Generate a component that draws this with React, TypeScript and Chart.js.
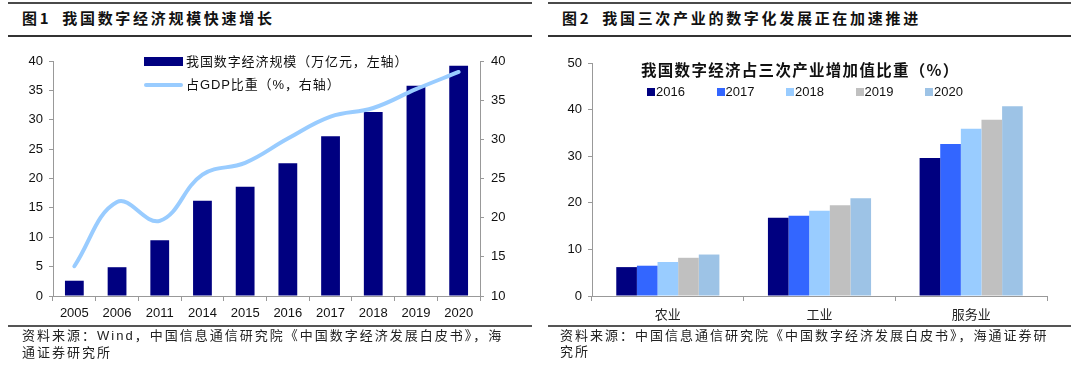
import React, { useEffect, useRef } from "react";
import { Chart, registerables } from "chart.js";

Chart.register(...registerables);

// ---------- Data ----------
const years1 = ["2005", "2006", "2011", "2014", "2015", "2016", "2017", "2018", "2019", "2020"];
const scaleValues = [2.6, 4.9, 9.5, 16.2, 18.6, 22.6, 27.2, 31.3, 35.8, 39.2];
const gdpShare = [13.8, 22.0, 19.6, 25.5, 27.0, 30.1, 32.9, 34.0, 36.4, 38.6];
const leftTicks = [0, 40, 5];
const rightTicks = [10, 40, 5];

const industries = ["农业", "工业", "服务业"];
const years2 = ["2016", "2017", "2018", "2019", "2020"];
const agri = [6.2, 6.5, 7.3, 8.2, 8.9];
const indus = [16.8, 17.2, 18.3, 19.5, 21.0];
const serv = [29.6, 32.6, 35.9, 37.8, 40.7];
const colors2 = ["#000080", "#3366FF", "#99CCFF", "#C0C0C0", "#9DC3E6"];

const FONT = '"Liberation Sans", Arial, "Noto Sans CJK SC", sans-serif';
const CJK = '"Noto Sans CJK SC", "Liberation Sans", sans-serif';

function Chart1() {
  const ref = useRef<HTMLCanvasElement>(null);
  useEffect(() => {
    const c = new Chart(ref.current!, {
      type: "bar",
      data: {
        labels: years1,
        datasets: [
          {
            type: "line",
            label: "占GDP比重（%，右轴）",
            data: gdpShare,
            yAxisID: "y1",
            borderColor: "#99CCFF",
            borderWidth: 4,
            pointRadius: 0,
            tension: 0.4,
            borderCapStyle: "round",
            order: 0,
          } as any,
          {
            type: "bar",
            label: "我国数字经济规模（万亿元，左轴）",
            data: scaleValues,
            yAxisID: "y",
            backgroundColor: "#000080",
            barPercentage: 0.44,
            categoryPercentage: 1,
            order: 1,
          },
        ],
      },
      options: {
        responsive: false,
        animation: false,
        devicePixelRatio: 1,
        layout: { padding: { top: 25, left: 0, right: 0, bottom: 0 } },
        plugins: { legend: { display: false }, tooltip: { enabled: false } },
        scales: {
          x: {
            offset: true,
            grid: { display: true, drawOnChartArea: false, offset: true, tickLength: 5, color: "#999" },
            border: { color: "#999", width: 1 },
            ticks: { color: "#111", font: { family: FONT, size: 13 }, padding: 5, maxRotation: 0 },
            afterFit: (s: any) => { s.height = 30; },
          },
          y: {
            position: "left",
            min: leftTicks[0],
            max: leftTicks[1],
            ticks: { stepSize: leftTicks[2], color: "#111", font: { family: FONT, size: 13 }, padding: 6 },
            grid: { drawOnChartArea: false, tickLength: 4, color: "#999" },
            border: { color: "#999", width: 1 },
            afterFit: (s: any) => { s.width = 53; },
          },
          y1: {
            position: "right",
            min: rightTicks[0],
            max: rightTicks[1],
            ticks: { stepSize: rightTicks[2], color: "#111", font: { family: FONT, size: 13 }, padding: 7 },
            grid: { drawOnChartArea: false, tickLength: 4, color: "#999" },
            border: { color: "#999", width: 1 },
            afterFit: (s: any) => { s.width = 60; },
          },
        },
      },
    });
    return () => c.destroy();
  }, []);
  return <canvas ref={ref} width={540} height={290} style={{ position: "absolute", left: 0, top: 36 }} />;
}

function Chart2() {
  const ref = useRef<HTMLCanvasElement>(null);
  useEffect(() => {
    const c = new Chart(ref.current!, {
      type: "bar",
      data: {
        labels: industries,
        datasets: years2.map((y, i) => ({
          label: y,
          data: [agri[i], indus[i], serv[i]],
          backgroundColor: colors2[i],
          barPercentage: 1,
          categoryPercentage: 0.68,
        })),
      },
      options: {
        responsive: false,
        animation: false,
        devicePixelRatio: 1,
        layout: { padding: { top: 27, left: 0, right: 33, bottom: 0 } },
        plugins: { legend: { display: false }, tooltip: { enabled: false } },
        scales: {
          x: {
            offset: true,
            grid: { display: true, drawOnChartArea: false, offset: true, tickLength: 5, color: "#999" },
            border: { color: "#999", width: 1 },
            ticks: { color: "#222", font: { family: CJK, size: 13 }, padding: 5, maxRotation: 0 },
            afterFit: (s: any) => { s.height = 30; },
          },
          y: {
            min: 0,
            max: 50,
            ticks: { stepSize: 10, color: "#111", font: { family: FONT, size: 13 }, padding: 6 },
            grid: { drawOnChartArea: false, tickLength: 4, color: "#999" },
            border: { color: "#999", width: 1 },
            afterFit: (s: any) => { s.width = 52; },
          },
        },
      },
    });
    return () => c.destroy();
  }, []);
  return <canvas ref={ref} width={540} height={290} style={{ position: "absolute", left: 0, top: 36 }} />;
}

const ruleTop: React.CSSProperties = { position: "absolute", top: 2, height: 2, background: "#4a4a4a" };
const ruleMid: React.CSSProperties = { position: "absolute", top: 35, height: 2, background: "#333" };
const ruleBot: React.CSSProperties = { position: "absolute", top: 325, height: 2, background: "#555" };
const titleStyle: React.CSSProperties = {
  position: "absolute",
  top: 8,
  fontFamily: CJK,
  fontWeight: 700,
  fontSize: 15,
  letterSpacing: 2.7,
  color: "#111",
  whiteSpace: "nowrap",
  lineHeight: "20px",
};
const srcStyle: React.CSSProperties = {
  position: "absolute",
  top: 327,
  fontFamily: CJK,
  fontSize: 13,
  letterSpacing: 2.0,
  color: "#222",
  whiteSpace: "nowrap",
  lineHeight: "16px",
};
const legText: React.CSSProperties = {
  position: "absolute",
  fontFamily: CJK,
  fontSize: 13,
  letterSpacing: 0.9,
  color: "#111",
  whiteSpace: "nowrap",
  lineHeight: "16px",
};

export default function App() {
  return (
    <div style={{ position: "absolute", left: 0, top: 0, width: 1080, height: 371, background: "#fff", overflow: "hidden" }}>
      {/* Panel 1 */}
      <div style={{ position: "absolute", left: 0, top: 0, width: 540, height: 371 }}>
        <div style={{ ...ruleTop, left: 8, width: 524 }} />
        <div style={{ ...titleStyle, left: 22 }}>图1<span style={{ marginLeft: 11 }}>我国数字经济规模快速增长</span></div>
        <div style={{ ...ruleMid, left: 8, width: 524 }} />
        <Chart1 />
        <div style={{ position: "absolute", left: 144, top: 57, width: 39, height: 9, background: "#000080" }} />
        <div style={{ ...legText, left: 186, top: 53 }}>我国数字经济规模（万亿元，左轴）</div>
        <div style={{ position: "absolute", left: 144, top: 83, width: 39, height: 4, borderRadius: 2, background: "#99CCFF" }} />
        <div style={{ ...legText, left: 186, top: 77, fontFamily: FONT }}>占GDP比重（%，右轴）</div>
        <div style={{ ...ruleBot, left: 8, width: 524 }} />
        <div style={{ ...srcStyle, left: 22 }}>
          资料来源：<span style={{ fontFamily: FONT }}>Wind</span>，中国信息通信研究院《中国数字经济发展白皮书》，海
          <br />
          通证券研究所
        </div>
      </div>
      {/* Panel 2 */}
      <div style={{ position: "absolute", left: 540, top: 0, width: 540, height: 371 }}>
        <div style={{ ...ruleTop, left: 8, width: 523 }} />
        <div style={{ ...titleStyle, left: 22 }}>图2<span style={{ marginLeft: 11 }}>我国三次产业的数字化发展正在加速推进</span></div>
        <div style={{ ...ruleMid, left: 8, width: 523 }} />
        <Chart2 />
        <div style={{ ...legText, left: 101, top: 61, fontSize: 15.5, fontWeight: 700, letterSpacing: 1.3 }}>
          我国数字经济占三次产业增加值比重（%）
        </div>
        {years2.map((y, i) => (
          <React.Fragment key={y}>
            <div style={{ position: "absolute", left: 107 + i * 69.5, top: 88, width: 8, height: 8, background: colors2[i] }} />
            <div style={{ ...legText, left: 116 + i * 69.5, top: 84, fontFamily: FONT, letterSpacing: 0 }}>{y}</div>
          </React.Fragment>
        ))}
        <div style={{ ...ruleBot, left: 8, width: 523 }} />
        <div style={{ ...srcStyle, left: 20 }}>
          资料来源：中国信息通信研究院《中国数字经济发展白皮书》，海通证券研
          <br />
          究所
        </div>
      </div>
    </div>
  );
}
